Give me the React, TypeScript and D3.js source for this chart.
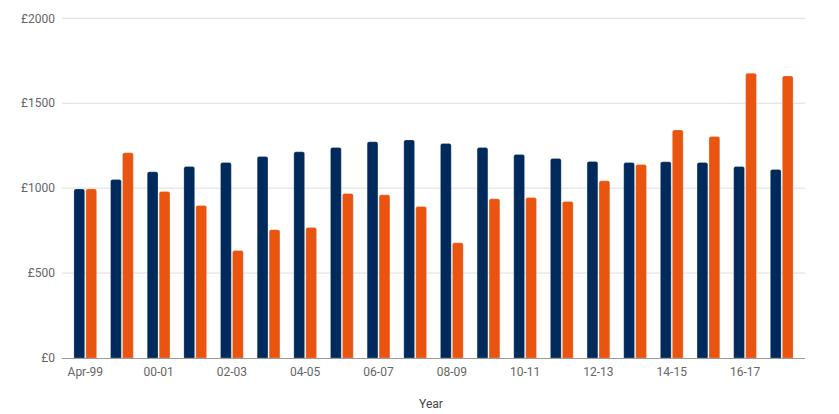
import React, { useEffect, useRef } from "react";
import * as d3 from "d3";

const years = [
  "Apr-99", "99-00", "00-01", "01-02", "02-03", "03-04", "04-05", "05-06", "06-07", "07-08",
  "08-09", "09-10", "10-11", "11-12", "12-13", "13-14", "14-15", "15-16", "16-17", "17-18",
];
const navyValues = [
  995, 1051, 1096, 1127, 1151, 1186, 1214, 1239, 1273, 1284,
  1263, 1239, 1198, 1175, 1157, 1151, 1155, 1151, 1127, 1110,
];
const orangeValues = [
  995, 1208, 980, 898, 633, 755, 769, 969, 961, 892,
  678, 937, 945, 922, 1043, 1139, 1343, 1304, 1676, 1661,
];
const yTicks = [0, 500, 1000, 1500, 2000];
const seriesKeys = ["navy", "orange"];
const seriesColors = ["#002a5c", "#e95410"];

export default function App() {
  const ref = useRef(null);

  useEffect(() => {
    const svg = d3.select(ref.current);
    svg.selectAll("*").remove();

    const left = 62;
    const right = 805;
    const top = 18.3;
    const bottom = 358;

    const x = d3
      .scaleBand()
      .domain(years)
      .range([left, right])
      .paddingInner(0.38)
      .paddingOuter(0.325);
    const x1 = d3
      .scaleBand()
      .domain(seriesKeys)
      .range([0, x.bandwidth()])
      .paddingInner(0.1);
    const y = d3.scaleLinear().domain([0, 2000]).range([bottom, top]);

    // grid lines
    svg
      .append("g")
      .selectAll("line")
      .data(yTicks.filter((t) => t > 0))
      .enter()
      .append("line")
      .attr("x1", left)
      .attr("x2", right)
      .attr("y1", (d) => y(d))
      .attr("y2", (d) => y(d))
      .style("stroke", "#dddddd")
      .style("stroke-width", 1);

    // y labels
    svg
      .append("g")
      .selectAll("text")
      .data(yTicks)
      .enter()
      .append("text")
      .attr("x", left - 7)
      .attr("y", (d) => y(d))
      .attr("dy", "0.35em")
      .attr("text-anchor", "end")
      .style("font-family", "Roboto")
      .style("font-size", "12px")
      .style("fill", "#666666")
      .text((d) => `£${d}`);

    const barPath = (x0: number, w: number, y0: number, r: number) => {
      const rr = Math.min(r, w / 2, bottom - y0);
      return `M${x0},${bottom}V${y0 + rr}Q${x0},${y0} ${x0 + rr},${y0}H${x0 + w - rr}Q${x0 + w},${y0} ${x0 + w},${y0 + rr}V${bottom}Z`;
    };

    const groups = svg
      .append("g")
      .selectAll("g")
      .data(years)
      .enter()
      .append("g")
      .attr("transform", (d) => `translate(${x(d)},0)`);

    [navyValues, orangeValues].forEach((vals, si) => {
      groups
        .append("path")
        .attr("d", (d, i) => barPath(x1(seriesKeys[si]), x1.bandwidth(), y(vals[i]), 2))
        .style("fill", seriesColors[si])
        .style("stroke", "#ffffff")
        .style("stroke-opacity", 0.35)
        .style("stroke-width", 0.6);
    });

    // x axis line
    svg
      .append("line")
      .attr("x1", left)
      .attr("x2", right)
      .attr("y1", bottom + 0.5)
      .attr("y2", bottom + 0.5)
      .style("stroke", "#999999")
      .style("stroke-width", 1);

    // x labels every other year
    svg
      .append("g")
      .selectAll("text")
      .data(years.filter((_, i) => i % 2 === 0))
      .enter()
      .append("text")
      .attr("x", (d) => x(d) + x.bandwidth() / 2)
      .attr("y", 376)
      .attr("text-anchor", "middle")
      .style("font-family", "Roboto")
      .style("font-size", "12px")
      .style("fill", "#666666")
      .text((d) => d);

    svg
      .append("text")
      .attr("x", 431)
      .attr("y", 408)
      .attr("text-anchor", "middle")
      .style("font-family", "Roboto")
      .style("font-size", "12px")
      .style("fill", "#444444")
      .text("Year");
  }, []);

  return (
    <svg
      ref={ref}
      width={839}
      height={414}
      style={{ position: "absolute", left: 0, top: 0, background: "#ffffff" }}
    ></svg>
  );
}
